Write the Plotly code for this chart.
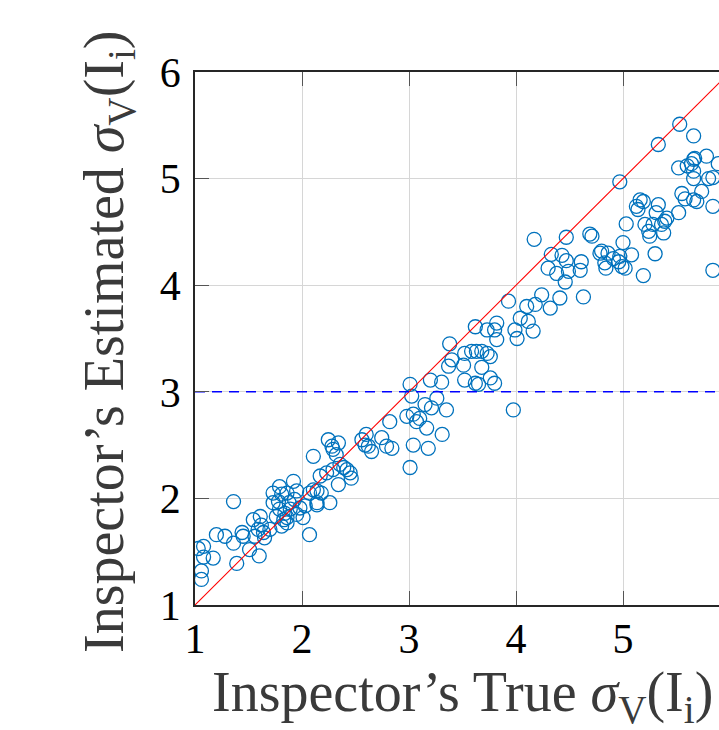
import plotly.graph_objects as go

# Inspector's true sigma_V(I_i) vs estimated sigma_V(I_i)
true_sigma = [
    1.03, 1.08, 1.08, 1.17, 1.06, 1.06, 1.20, 1.28, 1.36, 1.39, 1.36, 1.44, 1.45, 1.51,
    1.60, 1.545, 1.61, 1.62, 1.59, 1.64, 1.65, 1.56, 1.70, 1.73, 1.79, 1.81, 1.78, 1.73,
    1.86, 1.92, 1.95, 1.93, 1.79, 1.84, 1.83, 1.86, 1.81, 1.86, 1.89, 1.95, 2.01, 2.07,
    2.03, 2.07, 2.14, 2.14, 1.76, 1.88, 1.98,
    2.106, 2.246, 2.28, 2.34, 2.29, 2.32, 2.17, 2.23, 2.29, 2.355, 2.39, 2.42, 2.45, 2.46,
    2.34, 2.106, 2.18, 2.26, 2.14,
    2.56, 2.60, 2.59, 2.65, 2.62, 2.745, 2.79, 2.84, 2.82, 3.01, 3.04, 3.18, 3.31, 2.98,
    3.04, 3.07, 3.025, 3.10, 3.165, 3.15, 3.21, 3.26, 3.35, 3.01, 3.20, 3.305,
    3.38, 3.40, 3.37, 3.52, 3.51, 3.52, 3.585, 3.63, 3.68, 3.73, 3.76, 3.68, 3.62, 3.65,
    3.76, 3.80, 3.62, 3.73, 3.82, 3.80, 3.82, 3.93, 3.975, 3.99, 4.01, 4.04, 4.115, 4.16,
    4.10, 4.18, 4.24, 4.32,
    4.41, 4.63, 4.17, 4.47, 4.33, 4.43, 4.47, 4.30, 4.38, 4.49, 4.60, 4.61, 4.46, 4.69,
    4.71, 4.80, 4.86, 4.83, 4.91, 4.96, 4.99, 4.84, 5.02, 5.00, 5.08, 5.19, 5.30, 5.03,
    4.785, 4.97,
    4.97, 5.33, 5.53, 5.66, 5.125, 5.16, 5.19, 5.14, 5.33, 5.31, 5.41, 5.38, 5.24, 5.205,
    5.28, 5.39, 5.52, 5.55, 5.58, 5.69, 5.735, 5.66, 5.66, 5.66, 5.52, 5.60, 5.67, 5.78,
    5.80, 5.84, 5.84, 5.89, 5.84, 5.25, 5.36, 5.66, 5.64,
]
est_sigma = [
    1.53, 1.55, 1.45, 1.44, 1.32, 1.24, 1.66, 1.645, 1.58, 1.39, 1.97, 1.68, 1.645, 1.52,
    1.46, 1.80, 1.83, 1.75, 1.71, 1.68, 1.63, 1.645, 1.71, 2.05, 2.11, 2.04, 1.97, 1.96,
    2.05, 2.16, 2.07, 1.99, 1.90, 1.86, 1.80, 1.82, 1.74, 1.77, 1.90, 1.85, 1.82, 1.66,
    1.93, 2.05, 2.07, 1.96, 1.83, 1.96, 1.91,
    2.395, 2.55, 2.49, 2.52, 2.46, 2.41, 2.21, 2.24, 2.27, 2.32, 2.29, 2.27, 2.24, 2.19,
    2.13, 2.08, 2.05, 1.96, 1.94,
    2.55, 2.60, 2.50, 2.44, 2.49, 2.57, 2.49, 2.47, 2.72, 2.29, 2.50, 2.47, 2.60, 2.77,
    2.79, 2.72, 2.96, 2.75, 2.66, 2.88, 2.85, 2.94, 2.83, 3.07, 3.11, 3.09,
    3.45, 3.30, 3.24, 3.36, 3.25, 3.11, 3.38, 3.38, 3.38, 3.36, 3.33, 3.23, 3.08, 3.07,
    3.13, 3.08, 3.61, 3.58, 3.645, 3.58, 3.49, 3.85, 2.83, 3.58, 3.50, 3.69, 3.66, 3.57,
    3.80, 3.82, 3.91, 3.785,
    3.88, 3.89, 4.43, 4.45, 4.29, 4.28, 4.23, 4.16, 4.11, 4.13, 4.14, 4.22, 4.03, 4.48,
    4.46, 4.32, 4.30, 4.21, 4.25, 4.22, 4.175, 4.16, 4.16, 4.40, 4.285, 4.09, 4.295, 4.575,
    4.30, 4.27,
    4.97, 5.32, 5.51, 5.40, 4.74, 4.80, 4.785, 4.71, 4.755, 4.68, 4.63, 4.49, 4.505, 4.57,
    4.57, 4.60, 4.68, 4.86, 4.81, 4.785, 4.88, 5.00, 5.07, 5.18, 5.10, 5.12, 5.19, 5.21,
    5.00, 5.01, 4.74, 5.14, 4.14, 4.46, 4.57, 4.80, 5.14,
]

diag_vals = [1, 6]          # y = x reference line
threshold = 3               # dashed threshold level
x_ticks = [1, 2, 3, 4, 5, 6]
y_ticks = [1, 2, 3, 4, 5, 6]

FONT = "Liberation Serif"

fig = go.Figure()
fig.add_trace(go.Scatter(
    x=true_sigma, y=est_sigma, mode="markers",
    marker=dict(symbol="circle-open", size=14, color="#0072BD",
                line=dict(width=1.3, color="#0072BD")),
    showlegend=False,
))
fig.add_trace(go.Scatter(
    x=diag_vals, y=diag_vals, mode="lines",
    line=dict(color="#ff0000", width=1.1), showlegend=False,
))
fig.add_trace(go.Scatter(
    x=diag_vals, y=[threshold, threshold], mode="lines",
    line=dict(color="#0000ff", width=1.4, dash="10px,7px"), showlegend=False,
))

W, H = 719, 730
PX0, PY0, PY1 = 195, 72, 605          # plot area in window pixels (left, top, bottom)
L, T, R = PX0, PY0, 0
B = H - PY1
PW, PH = W - L - R, PY1 - PY0
px_per_unit = 107.0
x_max = 1 + PW / px_per_unit


def paper_x(px):
    return (px - PX0) / PW


def paper_y(py):
    return (PY1 - py) / PH


axis_common = dict(
    showgrid=True, gridcolor="#d6d6d6", gridwidth=1,
    zeroline=False, showline=True, linecolor="#262626", linewidth=1.5,
    ticks="inside", ticklen=14, tickwidth=1, tickcolor="#555555",
    tickfont=dict(family=FONT, size=42, color="#000000"),
)

fig.update_layout(
    width=W, height=H,
    margin=dict(l=L, r=R, t=T, b=B, pad=0),
    paper_bgcolor="white", plot_bgcolor="white",
    xaxis=dict(range=[1, x_max], tickvals=x_ticks, mirror="ticks",
               ticklabelstandoff=-4, **axis_common),
    yaxis=dict(range=[1, 6], tickvals=y_ticks, mirror=False,
               ticklabelstandoff=4, **axis_common),
    annotations=[
        dict(text="Inspector’s True <i>σ</i><sub>V</sub>(I<sub>i</sub>)",
             xref="paper", yref="paper",
             x=paper_x(462), y=paper_y(733),
             xanchor="center", yanchor="bottom", showarrow=False,
             font=dict(family=FONT, size=56, color="#3a3a3a")),
        dict(text="Inspector’s Estimated <i>σ</i><sub>V</sub>(I<sub>i</sub>)",
             xref="paper", yref="paper",
             x=paper_x(108), y=paper_y(342),
             xanchor="center", yanchor="middle", showarrow=False, textangle=-90,
             font=dict(family=FONT, size=56, color="#3a3a3a")),
    ],
)

fig.write_html(
    "out.html",
    config={"displayModeBar": False},
    post_script="document.body.style.margin='0';document.body.style.overflow='hidden';",
)
